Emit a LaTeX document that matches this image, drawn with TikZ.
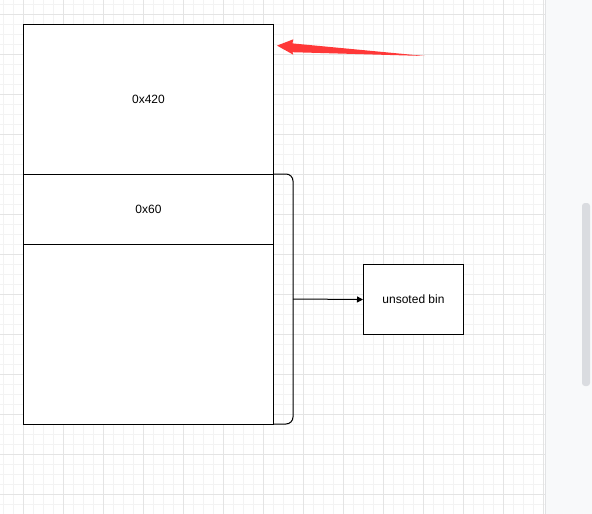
\documentclass[tikz,border=0pt]{standalone}
\usepackage{fontspec}
\setmainfont{Liberation Sans}
\usetikzlibrary{arrows.meta}
\definecolor{gminor}{HTML}{F3F3F3}
\definecolor{gmajor}{HTML}{E4E4E4}
\definecolor{panel}{HTML}{F8F9FA}
\definecolor{panelline}{HTML}{E2E3E5}
\definecolor{thumb}{HTML}{DADCE0}
\definecolor{redarrow}{HTML}{FF3838}
\tikzset{
  memblock/.style={draw=black, line width=1pt, fill=white},
  lbl/.style={font=\fontsize{12}{14}\selectfont, text=black},
  conn/.style={draw=black, line width=1pt, -{Triangle[length=6pt,width=6pt]}},
}
\begin{document}
\begin{tikzpicture}[x=1pt,y=-1pt]
\useasboundingbox (0,0) rectangle (592,514);
\fill[white] (0,0) rectangle (592,514);
% grid
\foreach \gx in {3,13,...,543} \draw[gminor, line width=0.8pt] (\gx,0) -- (\gx,514);
\foreach \gy in {4,14,...,514} \draw[gminor, line width=0.8pt] (0,\gy) -- (545,\gy);
\foreach \gx in {23,63,...,543} \draw[gmajor, line width=0.8pt] (\gx,0) -- (\gx,514);
\foreach \gy in {14,54,...,514} \draw[gmajor, line width=0.8pt] (0,\gy) -- (545,\gy);
% right panel
\fill[panel] (545,0) rectangle (592,514);
\draw[panelline, line width=1pt] (545.5,0) -- (545.5,514);
\fill[thumb, rounded corners=3pt] (582,203) rectangle (590,386);
% bracket
\draw[line width=1pt, rounded corners=7pt] (273,174) -- (293,174) -- (293,424) -- (273,424);
% memory blocks
\node[memblock, minimum width=250pt, minimum height=150pt, inner sep=0pt, anchor=north west] (b420) at (23,24) {};
\node[lbl] (t420) at (b420.center) {0x420};
\node[memblock, minimum width=250pt, minimum height=70pt, inner sep=0pt, anchor=north west] (b60) at (23,174) {};
\node[lbl] (t60) at (b60.center) {0x60};
\node[memblock, minimum width=250pt, minimum height=180pt, inner sep=0pt, anchor=north west] (brest) at (23,244) {};
% unsorted bin
\node[memblock, minimum width=100pt, minimum height=70pt, inner sep=0pt, anchor=north west] (bin) at (363,264) {};
\node[lbl] (tbin) at (bin.center) {unsoted bin};
\coordinate (bout) at (293,299);
\draw[conn] (bout) -- (bin.west);
% red arrow
\coordinate (rtip) at (277,45.6);
\fill[redarrow] (rtip) -- (293.3,39.3) -- (292.5,43.4) -- (425,56) -- (292.5,52.2) -- (293.3,54.7) -- cycle;
\end{tikzpicture}
\end{document}
